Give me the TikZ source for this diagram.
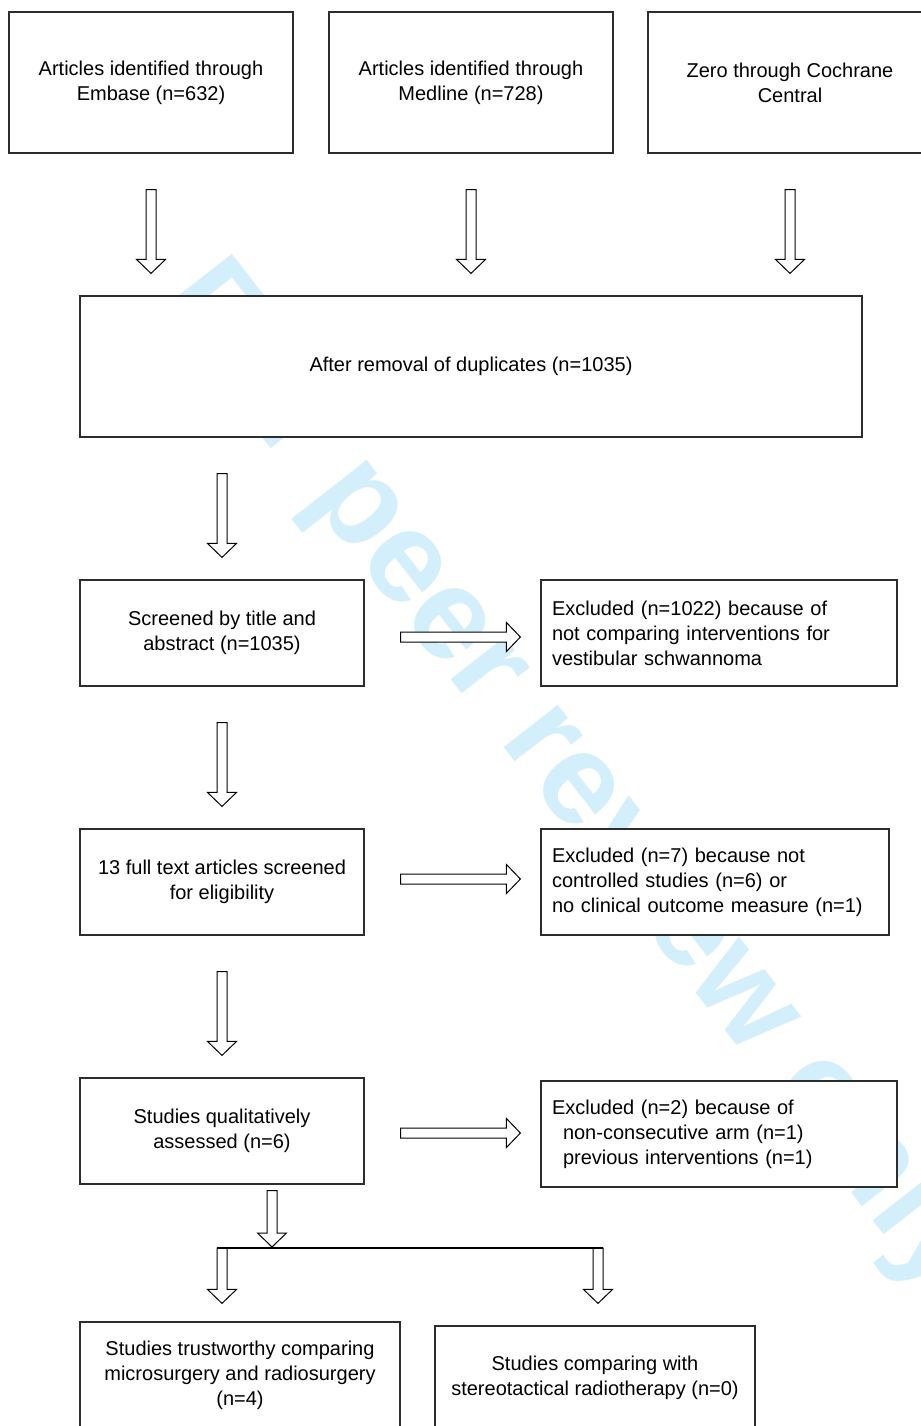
\documentclass[tikz,border=0pt]{standalone}
\usepackage{fontspec}
\setmainfont{Liberation Sans}
\newfontfamily\wmfont{Liberation Sans}
\usetikzlibrary{calc}
\definecolor{wmblue}{RGB}{212,239,252}
\definecolor{boxline}{RGB}{45,45,45}
\tikzset{
  box/.style={draw=boxline, line width=0.6pt, fill=white, rectangle, inner sep=0pt,
    align=center, font=\fontsize{10}{12.5}\selectfont},
  lbox/.style={box, align=left, inner xsep=5.5pt},
  barrowdown/.style={draw=black, fill=white, line width=0.5pt,
    to path={let \p1=(\tikztostart), \p2=(\tikztotarget) in
      (\x1-2.5pt,\y1) -- (\x1+2.5pt,\y1) -- (\x1+2.5pt,\y2+7pt) -- (\x1+7.25pt,\y2+7pt)
      -- (\x1,\y2) -- (\x1-7.25pt,\y2+7pt) -- (\x1-2.5pt,\y2+7pt) -- cycle}},
  barrowright/.style={draw=black, fill=white, line width=0.5pt,
    to path={let \p1=(\tikztostart), \p2=(\tikztotarget) in
      (\x1,\y1+2.5pt) -- (\x2-7pt,\y1+2.5pt) -- (\x2-7pt,\y1+7.25pt) -- (\x2,\y1)
      -- (\x2-7pt,\y1-7.25pt) -- (\x2-7pt,\y1-2.5pt) -- (\x1,\y1-2.5pt) -- cycle}},
  wm/.style={text=wmblue, inner sep=0pt, font=\wmfont\bfseries\fontsize{65}{78}\selectfont}
}
\begin{document}
\begin{tikzpicture}[x=0.5pt,y=-0.5pt]
\useasboundingbox (0,0) rectangle (921,1426);
\clip (0,0) rectangle (921,1426);
\fill[white] (0,0) rectangle (921,1426);
% watermark
\node[wm, anchor=base west, rotate=-52] (wmk) at (156,302) {For peer review only};
% boxes
\node[box, minimum width=142pt, minimum height=70.5pt] (emb) at (151,82.5) {Articles identified through\\Embase (n=632)};
\node[box, minimum width=142pt, minimum height=70.5pt] (med) at (471,82.5) {Articles identified through\\Medline (n=728)};
\node[box, minimum width=142pt, minimum height=70.5pt] (coch) at (790,82.5) {Zero through Cochrane\\Central};
\node[box, minimum width=391pt, minimum height=70.5pt] (dup) at (471,366.5) {After removal of duplicates (n=1035)};
\node[box, minimum width=142pt, minimum height=53pt] (scr) at (222,633) {Screened by title and\\abstract (n=1035)};
\node[lbox, text width=167pt, minimum width=178pt, minimum height=53pt] (ex1) at (719,633) {Excluded (n=1022) because of\\not comparing interventions for\\vestibular schwannoma};
\node[box, minimum width=142pt, minimum height=53pt] (ful) at (222,882) {13 full text articles screened\\for eligibility};
\node[lbox, text width=163pt, minimum width=174pt, minimum height=53pt] (ex2) at (715,882) {Excluded (n=7) because not\\controlled studies (n=6) or\\no clinical outcome measure (n=1)};
\node[box, minimum width=142pt, minimum height=53pt] (qua) at (222,1131) {Studies qualitatively\\assessed (n=6)};
\node[lbox, text width=167pt, minimum width=178pt, minimum height=53pt] (ex3) at (719,1134) {Excluded (n=2) because of\\\hspace*{5.5pt}non-consecutive arm (n=1)\\\hspace*{5.5pt}previous interventions (n=1)};
\node[box, minimum width=160pt, minimum height=53pt] (tru) at (240,1375) {Studies trustworthy comparing\\microsurgery and radiosurgery\\(n=4)};
\node[box, minimum width=160pt, minimum height=52pt] (ste) at (595,1378) {Studies comparing with\\stereotactical radiotherapy (n=0)};
% arrows
\draw[barrowdown] ($(emb.south)+(0,36)$) to ($(emb.south |- dup.north)+(0,-22)$);
\draw[barrowdown] ($(med.south)+(0,36)$) to ($(med.south |- dup.north)+(0,-22)$);
\draw[barrowdown] ($(coch.south)+(0,36)$) to ($(coch.south |- dup.north)+(0,-22)$);
\draw[barrowdown] ($(scr.north |- dup.south)+(0,36)$) to ($(scr.north)+(0,-22)$);
\draw[barrowdown] ($(scr.south)+(0,36)$) to ($(ful.north)+(0,-22)$);
\draw[barrowdown] ($(ful.south)+(0,36)$) to ($(qua.north)+(0,-22)$);
\draw[barrowright] ($(scr.east)+(36,4)$) to ($(ex1.west)+(-20,4)$);
\draw[barrowright] ($(ful.east)+(36,-3)$) to ($(ex2.west)+(-20,-3)$);
\draw[barrowright] ($(qua.east)+(36,2)$) to ($(ex3.west)+(-20,-1)$);
% split
\coordinate (jl) at (217,1248);
\coordinate (jr) at (603,1248);
\coordinate (jm) at (272,1247);
\draw[barrowdown] ($(qua.south)+(50,6)$) to (jm);
\draw[barrowdown] ($(jl)+(5,0)$) to ($(tru.north)+(-18,-18)$);
\draw[barrowdown] ($(jr)+(-5,0)$) to ($(ste.north)+(3,-22)$);
\draw[black, line width=1pt] (jl) -- (jr);
\end{tikzpicture}
\end{document}
